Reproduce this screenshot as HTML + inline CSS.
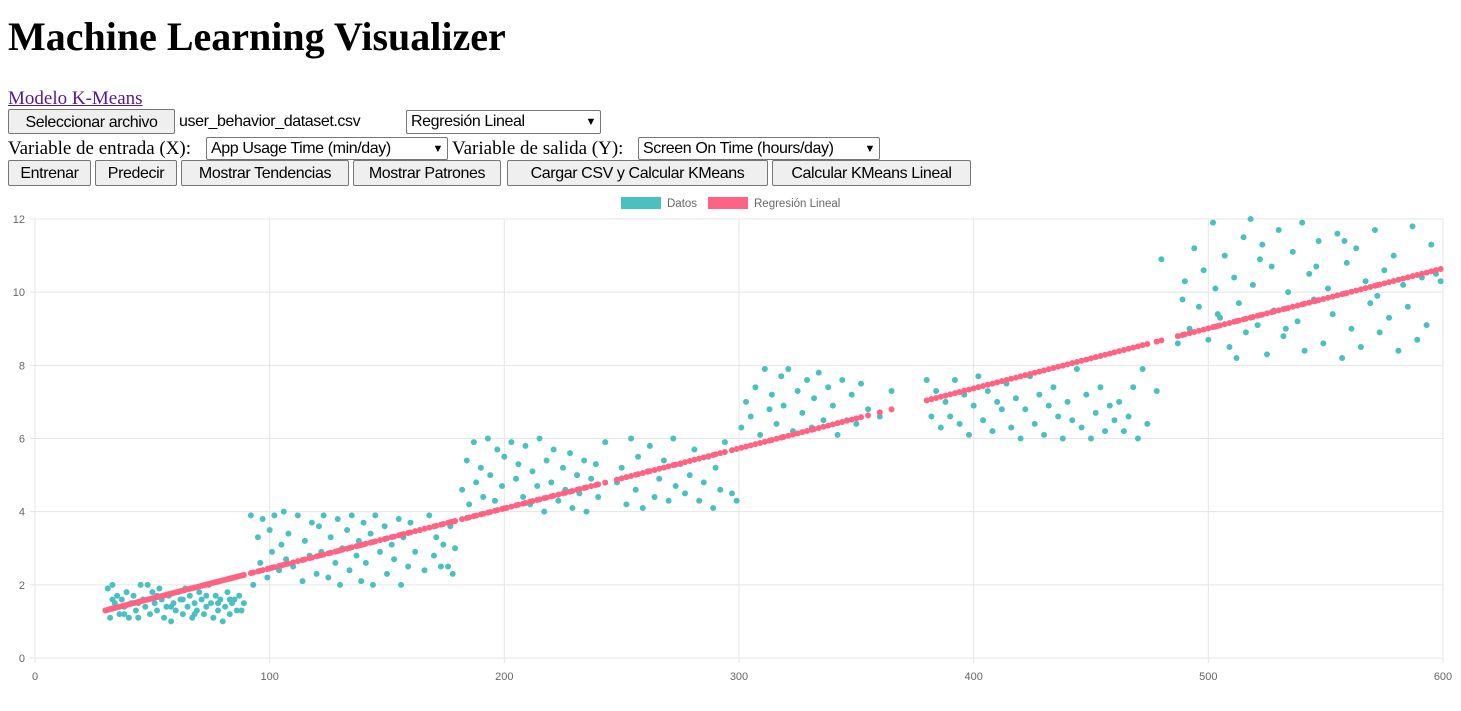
<!DOCTYPE html>
<html><head><meta charset="utf-8">
<style>
body{margin:0;width:1461px;height:711px;background:#fff;position:relative;overflow:hidden;font-family:"Liberation Serif",serif;}
.a{position:absolute;}
h1{position:absolute;left:8px;top:13px;margin:0;font-size:40px;font-weight:bold;font-family:"Liberation Serif",serif;line-height:48px;}
.btn{position:absolute;box-sizing:border-box;background:#efefef;border:1px solid #767676;border-radius:2px;font-family:"Liberation Sans",sans-serif;font-size:16px;letter-spacing:-0.4px;text-align:center;white-space:nowrap;overflow:hidden;line-height:25px;color:#000;}
.sel{position:absolute;box-sizing:border-box;background:#fff;border:1px solid #767676;border-radius:2px;font-family:"Liberation Sans",sans-serif;font-size:16px;letter-spacing:-0.4px;white-space:nowrap;overflow:hidden;padding-left:4px;line-height:22px;}
.sel span.c{position:absolute;right:4px;top:0;font-size:11px;}
.lbl{position:absolute;font-size:19px;white-space:nowrap;font-family:"Liberation Serif",serif;}
</style></head><body>
<h1>Machine Learning Visualizer</h1>
<a class="a" href="#" style="left:8px;top:88px;font-size:19px;color:#551a8b;">Modelo K-Means</a>
<div class="btn" style="left:8px;top:109px;width:167px;height:25px;">Seleccionar archivo</div>
<div class="a" style="left:179px;top:113px;font-family:'Liberation Sans',sans-serif;font-size:16px;letter-spacing:-0.4px;">user_behavior_dataset.csv</div>
<div class="sel" style="left:406px;top:110px;width:195px;height:24px;">Regresión Lineal<span class="c">&#9660;</span></div>
<div class="lbl" style="left:8px;top:138px;">Variable de entrada (X):</div>
<div class="sel" style="left:206px;top:137px;width:242px;height:23px;">App Usage Time (min/day)<span class="c">&#9660;</span></div>
<div class="lbl" style="left:452px;top:138px;">Variable de salida (Y):</div>
<div class="sel" style="left:638px;top:137px;width:242px;height:23px;">Screen On Time (hours/day)<span class="c">&#9660;</span></div>
<div class="btn" style="left:8px;top:160px;width:83px;height:26px;">Entrenar</div>
<div class="btn" style="left:95px;top:160px;width:82px;height:26px;">Predecir</div>
<div class="btn" style="left:181px;top:160px;width:168px;height:26px;">Mostrar Tendencias</div>
<div class="btn" style="left:353px;top:160px;width:148px;height:26px;">Mostrar Patrones</div>
<div class="btn" style="left:507px;top:160px;width:261px;height:26px;">Cargar CSV y Calcular KMeans</div>
<div class="btn" style="left:772px;top:160px;width:199px;height:26px;">Calcular KMeans Lineal</div>
<svg id="chart" class="a" style="left:0;top:190px" width="1461" height="521"></svg>
<script>
const xTicks=[0,100,200,300,400,500,600];
const yTicks=[0,2,4,6,8,10,12];
const datosX=[30,31,32,33,34,35,36,37,38,39,40,41,42,43,44,45,46,47,48,49,50,51,52,53,54,55,56,57,58,59,60,61,62,63,64,65,66,67,68,69,70,71,72,73,74,75,76,77,78,79,80,81,82,83,84,85,86,87,88,89,33,38,44,52,58,63,68,73,78,83,
92,93,95,96,97,99,100,101,102,104,105,106,107,108,110,112,114,115,117,118,120,121,122,123,125,126,128,129,130,131,133,134,135,137,138,139,140,141,143,144,145,147,149,150,152,153,155,156,157,159,160,162,164,166,168,170,171,173,174,176,177,178,179,
182,184,185,187,188,190,191,193,194,196,197,199,200,201,203,205,206,208,209,211,212,214,215,217,218,220,221,223,225,226,228,229,231,232,234,235,237,239,240,243,248,250,252,254,256,257,259,261,262,264,266,268,270,272,273,275,277,279,281,283,285,287,289,290,292,294,297,299,
301,303,305,307,309,311,313,314,316,318,319,321,323,325,327,329,331,332,334,336,338,340,342,344,346,348,350,352,355,360,365,
380,382,384,386,388,390,392,394,396,398,400,402,404,406,408,410,412,414,416,418,420,422,424,426,428,430,432,434,436,438,440,442,444,446,448,450,452,454,456,458,460,462,464,466,468,470,472,474,478,
480,487,489,490,492,494,496,498,500,502,503,505,507,509,511,513,515,516,518,519,521,523,525,527,528,530,532,534,536,538,540,541,543,545,547,549,551,553,555,557,559,561,563,565,567,569,571,573,575,577,579,581,583,585,587,589,591,593,595,597,599,504,512,522,533,546,558,572];
const datosY=[1.3,1.9,1.1,2.0,1.5,1.7,1.2,1.6,1.4,1.8,1.1,1.5,1.7,1.3,1.1,2.0,1.6,1.4,2.0,1.2,1.8,1.5,1.3,1.9,1.6,1.1,1.4,1.7,1.0,1.5,1.3,1.8,1.6,1.2,1.9,1.4,1.7,1.1,1.5,1.3,1.8,1.6,1.2,1.4,2.0,1.5,1.1,1.7,1.3,1.6,1.0,1.4,1.8,1.2,1.5,1.6,1.3,1.7,1.3,1.5,1.6,1.2,1.5,1.7,1.4,1.6,1.2,1.7,1.5,1.6,
3.9,2.0,3.3,2.6,3.8,2.2,3.5,2.9,3.9,2.4,3.1,4.0,2.7,3.4,2.5,3.9,2.1,3.2,2.8,3.7,2.3,3.6,2.9,3.9,2.2,3.3,2.6,3.8,2.0,3.0,3.5,2.4,3.9,2.8,3.2,2.1,3.7,2.6,3.4,2.0,3.9,2.9,3.6,2.3,3.1,2.7,3.8,2.0,3.3,2.5,3.7,2.9,3.5,2.4,3.9,2.8,3.3,2.5,3.1,2.5,3.6,2.3,3.0,
4.6,5.4,4.2,5.9,4.8,5.2,4.4,6.0,5.0,4.3,5.7,4.7,5.5,4.1,5.9,4.9,5.3,4.4,5.8,4.2,5.1,4.7,6.0,4.0,5.4,4.8,5.7,4.3,5.2,4.6,5.6,4.1,5.0,4.5,5.4,4.0,4.9,5.3,4.4,5.9,4.8,5.2,4.2,6.0,4.6,5.5,4.1,5.1,5.8,4.4,4.9,5.4,4.3,6.0,4.7,5.3,4.5,5.0,5.7,4.3,4.8,5.5,4.1,5.2,4.6,5.9,4.5,4.3,
6.3,7.0,6.6,7.4,6.1,7.9,6.8,7.2,6.4,7.7,6.9,7.9,6.2,7.3,6.7,7.6,6.3,7.1,7.8,6.5,7.4,6.9,6.1,7.6,6.5,7.2,6.4,7.5,6.8,6.6,7.3,
7.6,6.6,7.3,6.3,7.0,6.6,7.6,6.4,7.2,6.1,6.9,7.7,6.5,7.3,6.2,7.0,6.8,7.5,6.3,7.1,6.0,6.8,7.7,6.4,7.2,6.1,6.9,7.4,6.6,6.0,7.0,6.5,7.9,6.3,7.2,6.0,6.7,7.4,6.2,6.9,6.5,7.0,6.2,6.6,7.4,6.0,7.9,6.4,7.3,
10.9,8.6,9.8,10.3,9.0,11.2,9.6,10.6,8.7,11.9,10.1,9.3,11.0,8.5,10.4,9.7,11.5,8.9,12.0,10.2,9.1,11.3,8.3,10.7,9.5,11.7,8.8,10.0,11.1,9.2,11.9,8.4,10.5,9.8,11.4,8.6,10.1,9.4,11.6,8.2,10.8,9.0,11.2,8.5,10.3,9.7,11.7,8.9,10.6,9.3,11.0,8.4,10.2,9.6,11.8,8.7,10.4,9.1,11.3,10.5,10.3,9.4,8.2,10.9,9.0,10.7,11.4,9.9];
const regIntercept=[0.81];
const regSlope=[0.0164];
const legendLabels=["Datos","Regresión Lineal"];

const svg=document.getElementById('chart');
const NS='http://www.w3.org/2000/svg';
const L=35,R=1443,T=29,B=468;
const sx=v=>L+(v-0)/(600-0)*(R-L);
const sy=v=>B-(v-0)/(12-0)*(B-T);
function mk(tag,attrs){const e=document.createElementNS(NS,tag);for(const k in attrs)e.setAttribute(k,attrs[k]);svg.appendChild(e);return e;}
xTicks.forEach(t=>{
 const g=mk('line',{x1:sx(t),x2:sx(t),y1:T,y2:B+5,stroke:'#e5e5e5'});
 
 
 const tx=mk('text',{x:sx(t),y:B+22,'text-anchor':'middle','font-size':11,fill:'#666','font-family':'Liberation Sans, sans-serif'});
 tx.textContent=t;
 
 
});
yTicks.forEach(t=>{
 const g=mk('line',{x1:L-5,x2:R,y1:sy(t),y2:sy(t),stroke:'#e5e5e5'});
 
 
 const tx=mk('text',{x:L-10,y:sy(t)+4,'text-anchor':'end','font-size':11,fill:'#666','font-family':'Liberation Sans, sans-serif'});
 tx.textContent=t;
 
 
});
datosX.forEach((x,i)=>{
 const c=mk('circle',{cx:sx(x),cy:sy(datosY[i]),r:3,fill:'#4bc0c0'});
 
 
});
datosX.forEach(x=>{
 const c=mk('circle',{cx:sx(x),cy:sy(regIntercept[0]+regSlope[0]*x),r:3,fill:'#ff6384'});
 
 
});
const lx=[621,708],lc=['#4bc0c0','#ff6384'];
legendLabels.forEach((s,i)=>{
 const r=mk('rect',{x:lx[i],y:7,width:40,height:12,fill:lc[i]});
 
 
 const t=mk('text',{x:lx[i]+46,y:17,'font-size':11.5,fill:'#666','font-family':'Liberation Sans, sans-serif'});
 t.textContent=s;
 
 
});
</script>
</body></html>
